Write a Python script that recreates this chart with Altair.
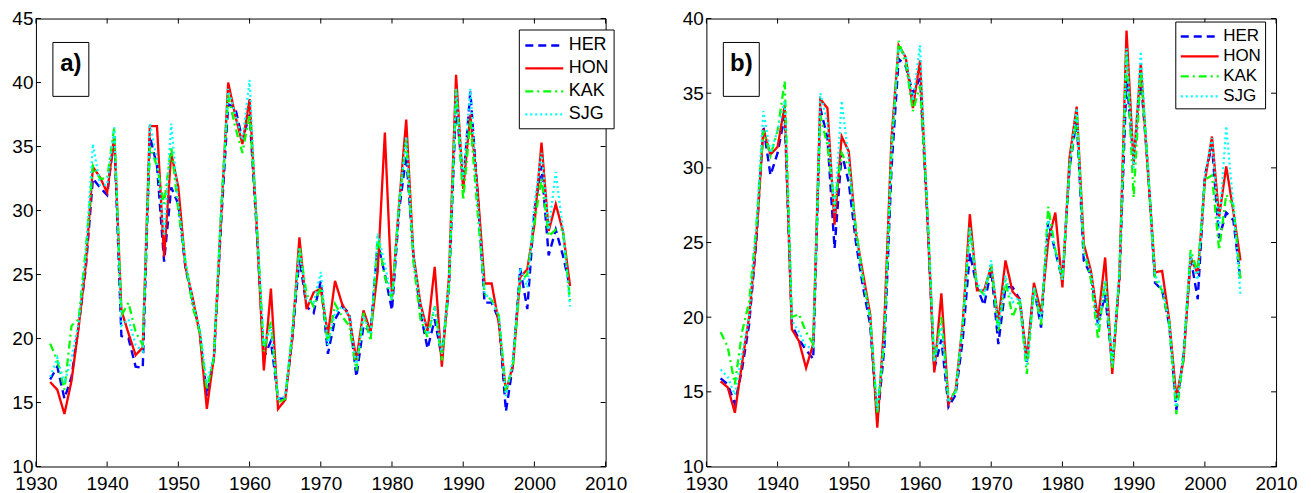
import altair as alt
import pandas as pd

years = list(range(1932, 2006))
series_names = ["HER", "HON", "KAK", "SJG"]
x_ticks = [1930, 1940, 1950, 1960, 1970, 1980, 1990, 2000, 2010]
y_ticks_a = [10, 15, 20, 25, 30, 35, 40, 45]
y_ticks_b = [10, 15, 20, 25, 30, 35, 40]

# ---------------- panel a ----------------
her_a = [16.8, 17.8, 15.3, 17.0, 21.0, 25.5, 32.5, 31.8, 31.2, 35.8,
         20.2, 20.0, 17.8, 17.7, 35.8, 33.5, 26.0, 31.8, 30.5, 25.5,
         23.0, 20.5, 15.5, 18.5, 29.0, 38.3, 38.0, 35.5, 37.5, 28.5,
         18.5, 19.8, 15.3, 15.3, 20.0, 26.3, 22.5, 22.0, 24.5, 18.8,
         21.5, 22.5, 22.0, 17.0, 21.0, 20.5, 27.5, 25.0, 22.2, 30.0,
         34.3, 26.5, 22.0, 19.2, 21.5, 18.5, 24.0, 38.5, 32.0, 39.3,
         31.5, 22.8, 22.8, 21.5, 14.3, 18.0, 25.5, 22.3, 30.0, 33.5,
         26.5, 28.5, 26.5, 24.0]
hon_a = [16.6, 16.0, 14.1, 16.7, 20.9, 25.8, 33.4, 32.6, 31.4, 35.8,
         22.2, 20.4, 18.7, 19.3, 36.6, 36.6, 26.4, 34.5, 31.8, 25.6,
         23.2, 20.4, 14.5, 18.6, 29.5, 40.0, 37.4, 35.2, 38.7, 28.9,
         17.5, 23.9, 14.5, 15.2, 20.1, 27.9, 22.3, 23.6, 23.9, 20.3,
         24.5, 22.7, 21.7, 18.3, 22.2, 20.5, 25.3, 36.1, 23.2, 30.5,
         37.1, 26.6, 22.7, 20.6, 25.6, 17.8, 24.8, 40.6, 31.7, 37.5,
         31.8, 24.3, 24.3, 21.2, 15.8, 18.0, 24.8, 25.4, 28.9, 35.3,
         28.4, 30.5, 28.4, 24.1]
kak_a = [19.6, 18.3, 16.0, 21.0, 21.5, 27.0, 33.5, 32.5, 32.5, 36.5,
         21.8, 22.8, 20.5, 19.5, 35.0, 33.5, 30.5, 35.0, 30.0, 26.0,
         22.5, 20.5, 16.0, 18.5, 30.0, 39.0, 36.5, 34.5, 37.5, 29.0,
         19.0, 21.3, 15.0, 15.3, 20.5, 27.2, 23.5, 22.5, 24.0, 19.5,
         22.7, 21.7, 21.0, 17.5, 22.0, 19.8, 28.0, 24.8, 23.0, 30.5,
         35.5, 26.0, 21.5, 20.1, 22.5, 18.3, 24.0, 39.5, 30.8, 37.0,
         30.0, 23.5, 23.0, 21.8, 15.8, 18.0, 24.5, 25.0, 29.0, 32.5,
         28.0, 28.5, 28.5, 23.0]
sjg_a = [17.0, 18.5, 16.5, 18.5, 21.2, 26.5, 35.2, 32.0, 32.0, 36.5,
         21.0, 21.5, 19.5, 19.0, 36.8, 34.0, 28.0, 36.8, 30.5, 26.0,
         23.0, 20.8, 16.5, 18.8, 30.0, 39.5, 37.5, 35.5, 40.2, 29.0,
         19.5, 21.0, 15.3, 15.5, 20.5, 27.0, 23.0, 22.8, 25.2, 19.5,
         22.0, 22.5, 21.8, 17.8, 21.8, 20.3, 28.2, 25.8, 23.0, 30.5,
         35.8, 26.5, 22.5, 20.3, 22.5, 18.8, 24.5, 39.5, 32.5, 39.5,
         31.0, 23.5, 23.0, 21.8, 15.5, 18.5, 25.5, 24.0, 30.5, 34.5,
         28.5, 33.0, 28.5, 22.5]

# ---------------- panel b ----------------
her_b = [15.9, 15.5, 14.2, 16.5, 19.5, 25.0, 32.8, 29.5, 31.0, 33.5,
         19.5, 18.5, 17.8, 17.2, 34.0, 32.0, 24.6, 31.0, 29.0, 25.0,
         22.0, 19.5, 13.0, 18.0, 30.0, 37.3, 36.8, 35.0, 36.0, 27.0,
         16.5, 18.5, 14.0, 14.8, 18.5, 24.3, 22.0, 20.8, 23.2, 18.2,
         22.0, 22.0, 21.2, 17.0, 22.0, 19.3, 26.4, 24.4, 22.5, 30.0,
         33.3, 23.8, 22.8, 19.5, 21.5, 16.8, 22.5, 36.0, 30.5, 36.0,
         30.0, 22.3, 21.8, 19.5, 13.8, 17.5, 24.0, 21.2, 29.5, 31.5,
         25.3, 27.0, 26.5, 22.5]
hon_b = [15.7, 15.3, 13.6, 16.9, 20.0, 25.3, 32.6, 30.9, 31.4, 34.2,
         19.2, 18.4, 16.6, 18.2, 34.6, 34.0, 26.2, 32.1, 31.1, 25.6,
         22.9, 20.2, 12.6, 19.8, 32.0, 38.2, 37.4, 34.0, 37.2, 27.1,
         16.3, 21.6, 14.2, 15.1, 19.6, 26.9, 21.8, 21.8, 23.4, 19.7,
         23.8, 21.7, 21.2, 17.1, 22.3, 20.3, 25.1, 27.0, 22.0, 30.7,
         34.1, 24.9, 23.1, 19.8, 24.0, 16.2, 22.7, 39.2, 30.2, 37.0,
         29.8, 23.0, 23.1, 19.8, 14.6, 17.1, 24.0, 22.9, 29.1, 32.1,
         26.7, 30.1, 27.1, 23.8]
kak_b = [19.0, 18.0, 15.5, 19.0, 21.0, 26.0, 32.5, 30.8, 32.5, 35.8,
         20.0, 20.2, 19.0, 18.2, 33.5, 31.5, 27.5, 31.0, 30.0, 26.0,
         22.5, 20.0, 13.5, 18.5, 31.0, 38.5, 37.0, 33.8, 35.5, 27.5,
         17.0, 20.0, 14.5, 15.0, 19.5, 26.0, 22.0, 21.5, 23.5, 19.0,
         22.5, 20.0, 21.2, 16.2, 22.0, 19.5, 27.4, 24.5, 22.5, 30.0,
         33.5, 24.5, 22.5, 18.5, 22.5, 16.5, 22.8, 37.8, 28.0, 36.5,
         30.0, 22.5, 21.8, 19.5, 13.5, 17.3, 24.5, 23.0, 29.2, 29.5,
         24.5, 28.2, 27.5, 22.5]
sjg_b = [16.5, 16.0, 14.8, 17.5, 20.0, 26.0, 33.8, 31.0, 32.5, 34.5,
         19.8, 19.0, 18.0, 18.0, 35.0, 33.0, 27.0, 34.5, 30.5, 25.5,
         22.5, 20.0, 13.8, 18.8, 31.5, 38.0, 37.5, 34.5, 38.2, 27.5,
         17.0, 19.5, 14.3, 15.0, 19.5, 26.0, 22.3, 21.5, 23.8, 19.3,
         22.8, 21.0, 21.3, 16.8, 22.0, 19.8, 26.5, 24.5, 22.5, 30.3,
         34.0, 24.3, 23.0, 19.3, 22.5, 16.8, 23.0, 38.0, 30.0, 37.8,
         30.0, 22.8, 22.0, 19.8, 14.0, 17.5, 24.2, 22.5, 29.5, 32.0,
         26.0, 32.8, 27.5, 21.5]


def long_df(d):
    rows = []
    for name, vals in d.items():
        for yr, v in zip(years, vals):
            rows.append({"year": yr, "value": v, "series": name})
    return pd.DataFrame(rows)


df_a = long_df({"HER": her_a, "HON": hon_a, "KAK": kak_a, "SJG": sjg_a})
df_b = long_df({"HER": her_b, "HON": hon_b, "KAK": kak_b, "SJG": sjg_b})

FONT = "Liberation Sans"
W, H = 571, 449
colors = ["#0000ff", "#ff0000", "#00ff00", "#00ffff"]
dashes = [[8, 5], [1, 0], [8, 4, 2, 4], [2, 3]]
widths = [2.4, 2.2, 2.6, 1.6]


def panel(df, ymax, yticks, tag, lx, ly, row_pad, leg_pad, lab_size, lab_off):
    xs = alt.Scale(domain=[1930, 2010], nice=False, zero=False)
    ys = alt.Scale(domain=[10, ymax], nice=False, zero=False)
    leg = alt.Legend(title=None, orient="none", legendX=lx, legendY=ly,
                     symbolType="M-1,0H3", symbolSize=361,
                     labelFont=FONT, labelFontSize=lab_size, labelColor="black",
                     labelOffset=lab_off, padding=leg_pad, rowPadding=row_pad,
                     strokeColor="black", fillColor="white")
    lines = alt.Chart(df).mark_line().encode(
        x=alt.X("year:Q", scale=xs, title=None,
                axis=alt.Axis(values=x_ticks, format="d", labelPadding=8.5, labelFlush=False)),
        y=alt.Y("value:Q", scale=ys, title=None,
                axis=alt.Axis(values=yticks, labelPadding=3, labelFlush=False)),
        color=alt.Color("series:N", scale=alt.Scale(domain=series_names, range=colors), legend=leg),
        strokeDash=alt.StrokeDash("series:N", scale=alt.Scale(domain=series_names, range=dashes), legend=leg),
        strokeWidth=alt.StrokeWidth("series:N", scale=alt.Scale(domain=series_names, range=widths), legend=leg),
    )
    ytk = alt.Chart(pd.DataFrame({"value": yticks})).mark_rule(color="black", strokeWidth=1)
    left = ytk.encode(y=alt.Y("value:Q", title=None), x=alt.value(0), x2=alt.value(5))
    right = ytk.encode(y=alt.Y("value:Q", title=None), x=alt.value(W - 5), x2=alt.value(W))
    xtk = alt.Chart(pd.DataFrame({"year": x_ticks})).mark_rule(color="black", strokeWidth=1)
    bottom = xtk.encode(x=alt.X("year:Q", title=None), y=alt.value(H - 5), y2=alt.value(H))
    top = xtk.encode(x=alt.X("year:Q", title=None), y=alt.value(0), y2=alt.value(5))
    tagdf = pd.DataFrame({"tag": [tag]})
    box = alt.Chart(tagdf).mark_rect(fill="white", stroke="black", strokeWidth=1).encode(
        x=alt.value(17), x2=alt.value(53), y=alt.value(24), y2=alt.value(78))
    txt = alt.Chart(tagdf).mark_text(font=FONT, fontSize=24, fontWeight="bold",
                                     align="center", baseline="alphabetic", color="black").encode(
        text="tag:N", x=alt.value(35), y=alt.value(53))
    return alt.layer(lines, left, right, bottom, top, box, txt).properties(width=W, height=H)


pa = panel(df_a, 45, y_ticks_a, "a)", 484, 11, 3, 5, 18, 23)
pb = panel(df_b, 40, y_ticks_b, "b)", 470, 3, 1, 4, 17, 22)

chart = alt.hconcat(pa, pb, spacing=101, bounds="flush").resolve_scale(
    x="independent", y="independent", color="independent",
    strokeDash="independent", strokeWidth="independent"
).resolve_legend(color="independent", strokeDash="independent", strokeWidth="independent").properties(
    padding={"left": 3, "top": 0, "right": 5, "bottom": 0}
).configure_view(stroke="black", strokeWidth=1).configure_axis(
    domain=False, ticks=False, grid=False, labelFont=FONT, labelFontSize=19, labelColor="black"
)

chart.save("out.html", embed_options={"renderer": "svg", "actions": False})
